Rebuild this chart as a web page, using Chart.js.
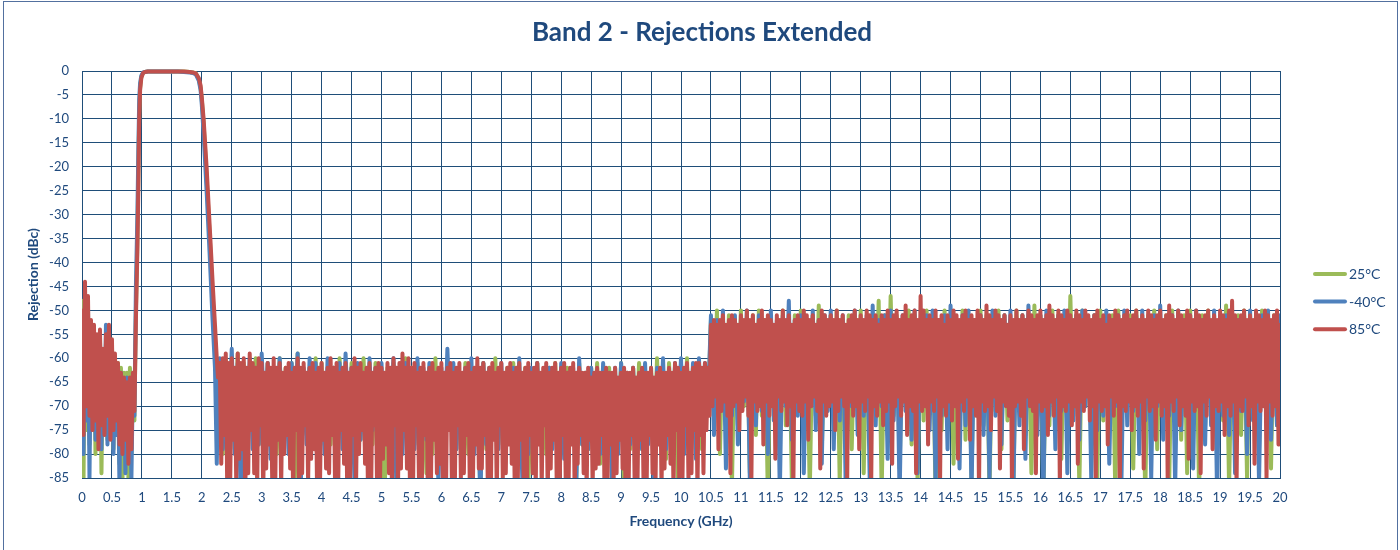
<!DOCTYPE html>
<html><head><meta charset="utf-8">
<script src="https://cdn.jsdelivr.net/npm/chart.js@4.4.1/dist/chart.umd.min.js"></script>
<style>
html,body{margin:0;padding:0;background:#fff;}
canvas{display:block;}
</style></head><body>
<canvas id="c" width="1400" height="550"></canvas>
<script>
// ---------- categories (frequency sweep points, GHz) ----------
const freqLow = [0,0.025,0.05,0.075,0.1,0.125,0.15,0.175,0.2,0.225,0.25,0.275,0.3,0.325,0.35,0.375,0.4,0.425,0.45,0.475,0.5,0.525,0.55,0.575,0.6,0.625,0.65,0.675,0.7,0.725,0.75,0.775,0.8,0.825,0.85,0.875];
const freqEdge = [0.9,0.925,0.94,0.955,0.97,0.99,1.02,1.05,1.1,1.2,1.3,1.4,1.5,1.6,1.7,1.8,1.85,1.9,1.95,1.98,2.0,2.03,2.08,2.13,2.18,2.22,2.25,2.27];
// coarse sweep (25°C, -40°C traces)
const freqBand1 = [2.3,2.35,2.4,2.45,2.5,2.55,2.6,2.65,2.7,2.75,2.8,2.85,2.9,2.95,
3,3.05,3.1,3.15,3.2,3.25,3.3,3.35,3.4,3.45,3.5,3.55,3.6,3.65,3.7,3.75,3.8,3.85,3.9,3.95,
4,4.05,4.1,4.15,4.2,4.25,4.3,4.35,4.4,4.45,4.5,4.55,4.6,4.65,4.7,4.75,4.8,4.85,4.9,4.95,
5,5.05,5.1,5.15,5.2,5.25,5.3,5.35,5.4,5.45,5.5,5.55,5.6,5.65,5.7,5.75,5.8,5.85,5.9,5.95,
6,6.05,6.1,6.15,6.2,6.25,6.3,6.35,6.4,6.45,6.5,6.55,6.6,6.65,6.7,6.75,6.8,6.85,6.9,6.95,
7,7.05,7.1,7.15,7.2,7.25,7.3,7.35,7.4,7.45,7.5,7.55,7.6,7.65,7.7,7.75,7.8,7.85,7.9,7.95,
8,8.05,8.1,8.15,8.2,8.25,8.3,8.35,8.4,8.45,8.5,8.55,8.6,8.65,8.7,8.75,8.8,8.85,8.9,8.95,
9,9.05,9.1,9.15,9.2,9.25,9.3,9.35,9.4,9.45,9.5,9.55,9.6,9.65,9.7,9.75,9.8,9.85,9.9,9.95,
10,10.05,10.1,10.15,10.2,10.25,10.3,10.35,10.4,10.45];
const freqBand2 = [10.5,10.55,10.6,10.65,10.7,10.75,10.8,10.85,10.9,10.95,
11,11.05,11.1,11.15,11.2,11.25,11.3,11.35,11.4,11.45,11.5,11.55,11.6,11.65,11.7,11.75,11.8,11.85,11.9,11.95,
12,12.05,12.1,12.15,12.2,12.25,12.3,12.35,12.4,12.45,12.5,12.55,12.6,12.65,12.7,12.75,12.8,12.85,12.9,12.95,
13,13.05,13.1,13.15,13.2,13.25,13.3,13.35,13.4,13.45,13.5,13.55,13.6,13.65,13.7,13.75,13.8,13.85,13.9,13.95,
14,14.05,14.1,14.15,14.2,14.25,14.3,14.35,14.4,14.45,14.5,14.55,14.6,14.65,14.7,14.75,14.8,14.85,14.9,14.95,
15,15.05,15.1,15.15,15.2,15.25,15.3,15.35,15.4,15.45,15.5,15.55,15.6,15.65,15.7,15.75,15.8,15.85,15.9,15.95,
16,16.05,16.1,16.15,16.2,16.25,16.3,16.35,16.4,16.45,16.5,16.55,16.6,16.65,16.7,16.75,16.8,16.85,16.9,16.95,
17,17.05,17.1,17.15,17.2,17.25,17.3,17.35,17.4,17.45,17.5,17.55,17.6,17.65,17.7,17.75,17.8,17.85,17.9,17.95,
18,18.05,18.1,18.15,18.2,18.25,18.3,18.35,18.4,18.45,18.5,18.55,18.6,18.65,18.7,18.75,18.8,18.85,18.9,18.95,
19,19.05,19.1,19.15,19.2,19.25,19.3,19.35,19.4,19.45,19.5,19.55,19.6,19.65,19.7,19.75,19.8,19.85,19.9,19.95,
20];
// fine sweep (85°C trace)
const freqFine1 = [
2.3,2.325,2.35,2.375,2.4,2.425,2.45,2.475,2.5,2.525,2.55,2.575,2.6,2.625,2.65,2.675,2.7,2.725,2.75,2.775,
2.8,2.825,2.85,2.875,2.9,2.925,2.95,2.975,3,3.025,3.05,3.075,3.1,3.125,3.15,3.175,3.2,3.225,3.25,3.275,
3.3,3.325,3.35,3.375,3.4,3.425,3.45,3.475,3.5,3.525,3.55,3.575,3.6,3.625,3.65,3.675,3.7,3.725,3.75,3.775,
3.8,3.825,3.85,3.875,3.9,3.925,3.95,3.975,4,4.025,4.05,4.075,4.1,4.125,4.15,4.175,4.2,4.225,4.25,4.275,
4.3,4.325,4.35,4.375,4.4,4.425,4.45,4.475,4.5,4.525,4.55,4.575,4.6,4.625,4.65,4.675,4.7,4.725,4.75,4.775,
4.8,4.825,4.85,4.875,4.9,4.925,4.95,4.975,5,5.025,5.05,5.075,5.1,5.125,5.15,5.175,5.2,5.225,5.25,5.275,
5.3,5.325,5.35,5.375,5.4,5.425,5.45,5.475,5.5,5.525,5.55,5.575,5.6,5.625,5.65,5.675,5.7,5.725,5.75,5.775,
5.8,5.825,5.85,5.875,5.9,5.925,5.95,5.975,6,6.025,6.05,6.075,6.1,6.125,6.15,6.175,6.2,6.225,6.25,6.275,
6.3,6.325,6.35,6.375,6.4,6.425,6.45,6.475,6.5,6.525,6.55,6.575,6.6,6.625,6.65,6.675,6.7,6.725,6.75,6.775,
6.8,6.825,6.85,6.875,6.9,6.925,6.95,6.975,7,7.025,7.05,7.075,7.1,7.125,7.15,7.175,7.2,7.225,7.25,7.275,
7.3,7.325,7.35,7.375,7.4,7.425,7.45,7.475,7.5,7.525,7.55,7.575,7.6,7.625,7.65,7.675,7.7,7.725,7.75,7.775,
7.8,7.825,7.85,7.875,7.9,7.925,7.95,7.975,8,8.025,8.05,8.075,8.1,8.125,8.15,8.175,8.2,8.225,8.25,8.275,
8.3,8.325,8.35,8.375,8.4,8.425,8.45,8.475,8.5,8.525,8.55,8.575,8.6,8.625,8.65,8.675,8.7,8.725,8.75,8.775,
8.8,8.825,8.85,8.875,8.9,8.925,8.95,8.975,9,9.025,9.05,9.075,9.1,9.125,9.15,9.175,9.2,9.225,9.25,9.275,
9.3,9.325,9.35,9.375,9.4,9.425,9.45,9.475,9.5,9.525,9.55,9.575,9.6,9.625,9.65,9.675,9.7,9.725,9.75,9.775,
9.8,9.825,9.85,9.875,9.9,9.925,9.95,9.975,10,10.025,10.05,10.075,10.1,10.125,10.15,10.175,10.2,10.225,10.25,10.275,
10.3,10.325,10.35,10.375,10.4,10.425,10.45,10.475];
const freqFine2 = [
10.5,10.525,10.55,10.575,10.6,10.625,10.65,10.675,10.7,10.725,10.75,10.775,10.8,10.825,10.85,10.875,10.9,10.925,10.95,10.975,
11,11.025,11.05,11.075,11.1,11.125,11.15,11.175,11.2,11.225,11.25,11.275,11.3,11.325,11.35,11.375,11.4,11.425,11.45,11.475,
11.5,11.525,11.55,11.575,11.6,11.625,11.65,11.675,11.7,11.725,11.75,11.775,11.8,11.825,11.85,11.875,11.9,11.925,11.95,11.975,
12,12.025,12.05,12.075,12.1,12.125,12.15,12.175,12.2,12.225,12.25,12.275,12.3,12.325,12.35,12.375,12.4,12.425,12.45,12.475,
12.5,12.525,12.55,12.575,12.6,12.625,12.65,12.675,12.7,12.725,12.75,12.775,12.8,12.825,12.85,12.875,12.9,12.925,12.95,12.975,
13,13.025,13.05,13.075,13.1,13.125,13.15,13.175,13.2,13.225,13.25,13.275,13.3,13.325,13.35,13.375,13.4,13.425,13.45,13.475,
13.5,13.525,13.55,13.575,13.6,13.625,13.65,13.675,13.7,13.725,13.75,13.775,13.8,13.825,13.85,13.875,13.9,13.925,13.95,13.975,
14,14.025,14.05,14.075,14.1,14.125,14.15,14.175,14.2,14.225,14.25,14.275,14.3,14.325,14.35,14.375,14.4,14.425,14.45,14.475,
14.5,14.525,14.55,14.575,14.6,14.625,14.65,14.675,14.7,14.725,14.75,14.775,14.8,14.825,14.85,14.875,14.9,14.925,14.95,14.975,
15,15.025,15.05,15.075,15.1,15.125,15.15,15.175,15.2,15.225,15.25,15.275,15.3,15.325,15.35,15.375,15.4,15.425,15.45,15.475,
15.5,15.525,15.55,15.575,15.6,15.625,15.65,15.675,15.7,15.725,15.75,15.775,15.8,15.825,15.85,15.875,15.9,15.925,15.95,15.975,
16,16.025,16.05,16.075,16.1,16.125,16.15,16.175,16.2,16.225,16.25,16.275,16.3,16.325,16.35,16.375,16.4,16.425,16.45,16.475,
16.5,16.525,16.55,16.575,16.6,16.625,16.65,16.675,16.7,16.725,16.75,16.775,16.8,16.825,16.85,16.875,16.9,16.925,16.95,16.975,
17,17.025,17.05,17.075,17.1,17.125,17.15,17.175,17.2,17.225,17.25,17.275,17.3,17.325,17.35,17.375,17.4,17.425,17.45,17.475,
17.5,17.525,17.55,17.575,17.6,17.625,17.65,17.675,17.7,17.725,17.75,17.775,17.8,17.825,17.85,17.875,17.9,17.925,17.95,17.975,
18,18.025,18.05,18.075,18.1,18.125,18.15,18.175,18.2,18.225,18.25,18.275,18.3,18.325,18.35,18.375,18.4,18.425,18.45,18.475,
18.5,18.525,18.55,18.575,18.6,18.625,18.65,18.675,18.7,18.725,18.75,18.775,18.8,18.825,18.85,18.875,18.9,18.925,18.95,18.975,
19,19.025,19.05,19.075,19.1,19.125,19.15,19.175,19.2,19.225,19.25,19.275,19.3,19.325,19.35,19.375,19.4,19.425,19.45,19.475,
19.5,19.525,19.55,19.575,19.6,19.625,19.65,19.675,19.7,19.725,19.75,19.775,19.8,19.825,19.85,19.875,19.9,19.925,19.95,19.975,
20];

// ---------- 25°C (dBc) ----------
const t25Low = [-48,-86,-47,-75,-50,-78,-53,-73,-54,-80,-56,-76,-55,-84,-59,-74,-57,-77,-54,-72,-57,-79,-60,-75,-61,-82,-62,-86,-63,-79,-63,-85,-62,-80,-63,-73];
const t25Edge = [-50,-35,-22,-9,-3.5,-1.2,-0.4,-0.2,-0.1,-0.1,-0.1,-0.1,-0.1,-0.1,-0.1,-0.2,-0.3,-0.5,-1.7,-3.5,-6,-11,-22,-34,-47,-56,-62,-66];
const t25Band1 = [
-61,-80,-60,-75,-62,-79,-59,-77,-61,-84,-63,-74,-60,-78,-62,-79,-61,-76,-63,-80,
-60,-78,-62,-74,-61,-87,-59,-80,-63,-76,-62,-79,-60,-75,-61,-78,-63,-78,-62,-86,
-60,-74,-62,-79,-61,-80,-63,-77,-60,-75,-62,-78,-61,-79,-63,-90,-62,-76,-61,-80,
-63,-74,-60,-79,-62,-78,-61,-75,-63,-84,-62,-80,-60,-77,-63,-80,-61,-74,-62,-79,
-64,-78,-61,-80,-62,-75,-63,-88,-61,-79,-62,-76,-60,-78,-63,-81,-62,-74,-61,-79,
-63,-77,-62,-87,-64,-79,-61,-75,-63,-80,-62,-78,-61,-76,-63,-80,-62,-74,-64,-86,
-61,-78,-63,-79,-62,-75,-61,-82,-63,-77,-62,-80,-64,-74,-61,-88,-63,-79,-62,-76,
-61,-79,-63,-75,-62,-80,-60,-78,-63,-81,-61,-74,-62,-86,-61,-77,-60,-80,-62,-75,
-61,-79,-62,-71];
const t25Band2 = [
-52,-73,-50,-80,-52,-71,-51,-87,-53,-74,-50,-70,-52,-84,-51,-76,-50,-72,-52,-89,
-51,-70,-53,-78,-50,-74,-52,-85,-51,-71,-50,-77,-52,-88,-51,-72,-49,-80,-52,-70,
-51,-75,-50,-86,-52,-72,-51,-79,-53,-70,-50,-84,-52,-74,-51,-71,-48,-88,-51,-76,
-47,-72,-51,-83,-52,-70,-50,-78,-51,-86,-52,-73,-50,-71,-51,-89,-52,-75,-50,-70,
-51,-82,-52,-72,-50,-77,-51,-85,-52,-70,-50,-74,-51,-88,-52,-71,-50,-79,-51,-73,
-52,-86,-50,-70,-51,-76,-52,-84,-49,-72,-51,-89,-52,-74,-50,-70,-51,-81,-52,-75,
-47,-72,-51,-87,-50,-70,-52,-78,-51,-85,-50,-73,-52,-71,-51,-88,-50,-76,-52,-70,
-51,-83,-50,-74,-52,-89,-51,-71,-50,-79,-52,-72,-51,-86,-50,-70,-52,-77,-51,-84,
-50,-72,-52,-88,-51,-74,-50,-70,-52,-81,-51,-73,-49,-87,-52,-71,-51,-76,-50,-85,
-52,-72,-51,-79,-50,-70,-52,-83,-51,-74,-52];

// ---------- -40°C (dBc) ----------
const tm40Low = [-52,-80,-46,-73,-49,-85,-54,-74,-55,-77,-57,-72,-56,-79,-60,-75,-53,-78,-55,-74,-58,-80,-60,-76,-62,-86,-63,-78,-65,-84,-64,-79,-66,-85,-64,-72];
const tm40Edge = [-45,-30,-17,-6,-2.5,-1,-0.3,-0.2,-0.1,-0.1,-0.1,-0.1,-0.1,-0.1,-0.2,-0.3,-0.4,-0.7,-2,-4,-7,-13,-25,-38,-52,-62,-82,-68];
const tm40Band1 = [
-60,-79,-62,-76,-58,-80,-61,-89,-63,-75,-60,-79,-62,-78,-59,-74,-61,-81,-62,-77,
-60,-77,-63,-80,-61,-75,-59,-88,-62,-78,-60,-74,-61,-79,-63,-80,-60,-76,-62,-77,
-61,-79,-59,-74,-62,-86,-61,-77,-63,-78,-60,-75,-62,-80,-61,-78,-63,-73,-60,-88,
-62,-80,-61,-76,-63,-79,-60,-77,-62,-77,-61,-75,-63,-86,-62,-78,-58,-74,-61,-79,
-63,-79,-62,-76,-60,-80,-63,-90,-61,-78,-62,-74,-64,-79,-61,-77,-63,-77,-62,-75,
-60,-85,-63,-80,-62,-76,-61,-78,-63,-74,-62,-79,-64,-79,-61,-81,-63,-75,-62,-87,
-60,-78,-63,-79,-62,-76,-64,-80,-61,-74,-63,-86,-62,-80,-61,-77,-63,-78,-62,-75,
-64,-79,-61,-78,-63,-88,-62,-76,-60,-79,-63,-79,-61,-74,-60,-80,-62,-77,-61,-81,
-60,-75,-61,-70];
const tm40Band2 = [
-51,-76,-52,-70,-50,-83,-53,-72,-51,-78,-52,-69,-50,-86,-52,-74,-51,-71,-53,-80,
-50,-73,-52,-88,-51,-70,-48,-77,-52,-72,-51,-84,-53,-69,-50,-75,-52,-82,-51,-71,
-50,-79,-52,-73,-51,-87,-53,-70,-50,-76,-52,-72,-51,-85,-49,-74,-52,-70,-51,-81,
-50,-73,-52,-89,-51,-71,-53,-77,-50,-84,-52,-70,-51,-75,-50,-86,-52,-72,-51,-79,
-49,-70,-52,-83,-51,-74,-50,-88,-52,-71,-51,-76,-53,-85,-50,-72,-52,-78,-51,-70,
-50,-87,-52,-74,-51,-81,-49,-70,-52,-76,-51,-89,-50,-72,-52,-79,-51,-71,-50,-84,
-52,-73,-51,-77,-50,-70,-52,-86,-51,-75,-53,-72,-50,-82,-52,-70,-51,-88,-50,-74,
-52,-71,-51,-80,-50,-73,-52,-85,-51,-70,-49,-77,-52,-72,-51,-87,-50,-75,-52,-71,
-51,-83,-50,-70,-52,-78,-51,-74,-50,-89,-52,-72,-51,-76,-50,-84,-52,-71,-51,-80,
-50,-73,-52,-86,-51,-70,-50,-77,-52,-74,-51];

// ---------- 85°C (dBc) ----------
const t85Low = [-50,-76,-44,-70,-47,-72,-52,-75,-53,-73,-55,-79,-54,-74,-58,-76,-55,-72,-53,-77,-56,-75,-59,-73,-61,-78,-63,-80,-64,-77,-65,-82,-64,-79,-63,-71];
const t85Edge = [-52,-37,-25,-10,-4,-1.5,-0.4,-0.2,-0.1,-0.1,-0.1,-0.1,-0.1,-0.1,-0.1,-0.2,-0.3,-0.5,-1.5,-3,-5.5,-10,-20,-32,-44,-53,-60,-64];
const t85Fine1 = [
-61,-82,-60,-76,-59,-88,-61,-85,-60,-77,-62,-86,-59,-81,-61,-79,-60,-90,-62,-84,
-59,-75,-61,-84,-62,-87,-60,-74,-61,-89,-63,-83,-61,-78,-62,-85,-60,-88,-62,-77,
-61,-87,-63,-80,-62,-76,-61,-83,-63,-89,-62,-75,-60,-90,-62,-84,-61,-74,-63,-86,
-62,-81,-61,-79,-63,-88,-62,-85,-61,-77,-63,-83,-62,-84,-60,-76,-62,-87,-61,-89,
-63,-75,-62,-82,-61,-85,-63,-88,-62,-76,-60,-87,-62,-80,-61,-75,-63,-82,-62,-89,
-61,-90,-63,-74,-62,-86,-61,-86,-62,-81,-63,-78,-61,-84,-62,-88,-60,-74,-62,-88,
-61,-83,-59,-75,-62,-83,-60,-87,-62,-89,-61,-74,-63,-85,-62,-85,-61,-76,-63,-90,
-62,-87,-61,-77,-63,-84,-62,-82,-61,-88,-63,-90,-62,-75,-61,-86,-63,-86,-62,-74,
-61,-85,-63,-84,-62,-76,-61,-88,-63,-88,-62,-78,-60,-83,-62,-83,-61,-76,-63,-87,
-62,-89,-61,-77,-63,-89,-62,-74,-61,-85,-63,-84,-62,-78,-61,-82,-63,-88,-62,-86,
-61,-77,-63,-86,-62,-90,-61,-76,-63,-84,-62,-87,-61,-78,-63,-87,-62,-74,-61,-89,
-63,-83,-62,-77,-61,-86,-63,-88,-62,-76,-61,-85,-63,-85,-62,-78,-61,-89,-63,-82,
-62,-76,-63,-84,-63,-88,-62,-77,-64,-87,-63,-83,-62,-82,-63,-76,-63,-90,-62,-85,
-63,-78,-63,-86,-62,-84,-64,-77,-63,-83,-62,-89,-63,-88,-63,-76,-62,-85,-64,-85,
-63,-77,-62,-87,-63,-89,-63,-76,-62,-84,-64,-86,-63,-78,-62,-87,-63,-83,-63,-76,
-62,-82,-63,-88,-61,-75,-62,-90,-63,-85,-62,-74,-61,-86,-63,-84,-62,-75,-61,-88,
-61,-76,-62,-84,-61,-75,-62,-72];
const t85Fine2 = [
-53,-70,-52,-68,-53,-79,-52,-71,-51,-69,-53,-72,-52,-84,-51,-70,-52,-69,-53,-75,
-51,-71,-52,-68,-50,-72,-52,-86,-51,-69,-53,-71,-52,-70,-50,-78,-52,-69,-51,-72,
-52,-70,-53,-81,-51,-68,-52,-71,-50,-69,-52,-74,-51,-70,-53,-88,-52,-69,-51,-71,
-52,-72,-50,-69,-51,-77,-52,-70,-51,-68,-53,-71,-52,-83,-50,-69,-51,-72,-52,-70,
-51,-69,-52,-75,-50,-71,-52,-68,-51,-70,-53,-85,-52,-69,-51,-72,-50,-70,-52,-79,
-51,-69,-52,-71,-50,-68,-51,-87,-52,-70,-51,-72,-53,-69,-51,-74,-52,-71,-50,-69,
-52,-82,-51,-70,-50,-68,-52,-72,-51,-69,-49,-76,-52,-70,-51,-71,-50,-84,-52,-69,
-47,-71,-50,-70,-52,-78,-51,-69,-52,-71,-50,-68,-52,-86,-51,-70,-53,-72,-51,-69,
-52,-73,-50,-70,-51,-81,-52,-69,-51,-71,-50,-68,-52,-77,-51,-70,-52,-72,-50,-88,
-51,-69,-52,-71,-49,-70,-51,-75,-52,-68,-50,-71,-51,-83,-52,-69,-51,-70,-53,-72,
-51,-86,-52,-70,-50,-69,-52,-72,-51,-79,-52,-68,-50,-70,-51,-71,-52,-84,-51,-69,
-50,-71,-52,-70,-51,-76,-49,-69,-51,-72,-52,-68,-50,-87,-51,-70,-52,-71,-50,-69,
-51,-74,-52,-70,-50,-82,-51,-69,-52,-71,-50,-68,-51,-73,-52,-70,-51,-85,-50,-69,
-52,-71,-51,-70,-53,-78,-51,-68,-52,-72,-50,-69,-51,-88,-52,-70,-51,-71,-50,-69,
-52,-75,-51,-70,-50,-72,-52,-69,-51,-83,-52,-68,-50,-71,-51,-70,-52,-77,-51,-69,
-50,-72,-52,-70,-51,-86,-49,-69,-51,-71,-52,-68,-50,-74,-51,-70,-52,-72,-50,-81,
-51,-69,-52,-71,-50,-70,-51,-84,-52,-69,-51,-72,-50,-68,-52,-79,-51,-70,-52,-71,
-50,-69,-51,-76,-52,-70,-50,-72,-48,-69,-51,-87,-52,-70,-51,-71,-50,-68,-52,-74,
-51,-70,-52,-82,-50,-69,-51,-71,-52,-70,-50,-85,-51,-69,-52,-72,-51,-70,-50,-78,
-53];

const seriesLabels = ['25°C', '-40°C', '85°C'];
const chartTitle = 'Band 2 - Rejections Extended';
const xTitle = 'Frequency (GHz)';
const yTitle = 'Rejection (dBc)';

// ---------- assembly ----------
const freqCoarse = [...freqLow, ...freqEdge, ...freqBand1, ...freqBand2];
const freqFine = [...freqLow, ...freqEdge, ...freqFine1, ...freqFine2];
const v25 = [...t25Low, ...t25Edge, ...t25Band1, ...t25Band2];
const vm40 = [...tm40Low, ...tm40Edge, ...tm40Band1, ...tm40Band2];
const v85 = [...t85Low, ...t85Edge, ...t85Fine1, ...t85Fine2];
const pts = (fx, vals) => fx.map((f, i) => ({x: f, y: vals[i]}));

const FONT = 'Lato, "Open Sans", "DejaVu Sans", sans-serif';
const TEXT = '#1F497D';
const GRID = '#1F4E79';
const COLORS = ['#9BBB59', '#4F81BD', '#C0504D'];

const decor = {
  id: 'decor',
  beforeDraw(chart) {
    const ctx = chart.ctx;
    ctx.save();
    ctx.fillStyle = '#fff';
    ctx.fillRect(0, 0, chart.width, chart.height);
    ctx.restore();
  },
  afterDraw(chart) {
    const ctx = chart.ctx;
    ctx.save();
    ctx.strokeStyle = '#52709F';
    ctx.lineWidth = 1;
    ctx.strokeRect(3.5, 1.5, 1394, 560);
    ctx.fillStyle = TEXT;
    ctx.font = 'bold 26px ' + FONT;
    ctx.textAlign = 'center';
    ctx.textBaseline = 'middle';
    ctx.fillText(chartTitle, 702, 33);
    chart.data.datasets.forEach((ds, i) => {
      const y = 274 + i * 27.6;
      ctx.strokeStyle = ds.borderColor;
      ctx.lineWidth = 4;
      ctx.lineCap = 'round';
      ctx.beginPath();
      ctx.moveTo(1315, y);
      ctx.lineTo(1345, y);
      ctx.stroke();
      ctx.fillStyle = TEXT;
      ctx.font = '14px ' + FONT;
      ctx.textAlign = 'left';
      ctx.textBaseline = 'middle';
      ctx.fillText(ds.label, 1349, y + 0.5);
    });
    ctx.restore();
  }
};

const mk = (i, data, order) => ({
  label: seriesLabels[i],
  data: data,
  borderColor: COLORS[i],
  backgroundColor: COLORS[i],
  borderWidth: 4,
  pointRadius: 0,
  tension: 0,
  fill: false,
  order: order,
  borderJoinStyle: 'round',
  borderCapStyle: 'round',
  clip: {left: 0, top: 4, right: 0, bottom: 0}
});

const fmt = v => String(Math.round(v * 10) / 10);

new Chart(document.getElementById('c'), {
  type: 'line',
  data: {
    datasets: [
      mk(0, pts(freqCoarse, v25), 2),
      mk(1, pts(freqCoarse, vm40), 1),
      mk(2, pts(freqFine, v85), 0)
    ]
  },
  options: {
    responsive: false,
    animation: false,
    devicePixelRatio: 1,
    layout: {padding: {top: 71, right: 120, bottom: 0, left: 0}},
    plugins: {legend: {display: false}, title: {display: false}, tooltip: {enabled: false}},
    scales: {
      x: {
        type: 'linear', min: 0, max: 20,
        ticks: {stepSize: 0.5, autoSkip: false, maxRotation: 0, padding: 12, callback: fmt,
                color: TEXT, font: {family: FONT, size: 13}},
        grid: {color: GRID, lineWidth: 1, drawTicks: false},
        border: {color: GRID, width: 1},
        title: {display: true, text: xTitle, color: TEXT,
                font: {family: FONT, size: 14, weight: 'bold'}, padding: {top: 0, bottom: 20}},
        afterFit(s) { s.height = 72; }
      },
      y: {
        type: 'linear', min: -85, max: 0,
        ticks: {stepSize: 5, padding: 13, color: TEXT, font: {family: FONT, size: 13}},
        grid: {color: GRID, lineWidth: 1, drawTicks: false},
        border: {color: GRID, width: 1},
        title: {display: true, text: yTitle, color: TEXT,
                font: {family: FONT, size: 14, weight: 'bold'}, padding: {top: 25, bottom: 0}},
        afterFit(s) { s.width = 82; }
      }
    }
  },
  plugins: [decor]
});
</script>
</body></html>
